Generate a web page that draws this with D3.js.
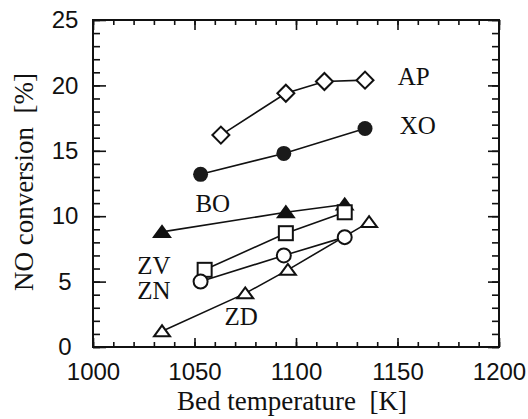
<!DOCTYPE html>
<html>
  <head>
    <meta charset="utf-8">
    <script src="https://d3js.org/d3.v7.min.js"></script>
    <style>
      body { margin: 0; background: #fff; }
      .ticklab { font-family: "Liberation Sans", Arial, sans-serif; font-size: 24px; }
      .serif { font-family: "Liberation Serif", "Times New Roman", serif; }
    </style>
  </head>
  <body>
    <script>

      // series values: bed temperature [K] and NO conversion [%]
      var ap_x = [1063, 1095, 1114, 1134]
      var ap_y = [16.2, 19.4, 20.3, 20.4]
      var xo_x = [1053, 1094, 1134]
      var xo_y = [13.2, 14.8, 16.7]
      var bo_x = [1034, 1095, 1124]
      var bo_y = [8.8, 10.3, 10.9]
      var zv_x = [1055, 1095, 1124]
      var zv_y = [5.9, 8.7, 10.3]
      var zn_x = [1053, 1094, 1124]
      var zn_y = [5.0, 7.0, 8.4]
      var zd_x = [1034, 1075, 1096, 1136]
      var zd_y = [1.2, 4.1, 5.9, 9.55]

      // tick labels
      var x_ticks = [1000, 1050, 1100, 1150, 1200]
      var y_ticks = [0, 5, 10, 15, 20, 25]

      // series names and where their labels sit (data units)
      var names = ["AP", "XO", "BO", "ZV", "ZN", "ZD"]
      var label_x = [1158, 1160, 1059, 1030, 1030, 1073]
      var label_y = [20.0, 16.3, 10.3, 5.6, 3.7, 1.7]

      var w = 528
      var h = 419
      var pl = 93, pr = 499, pt = 20, pb = 347

      var svg = d3.select("body").append("svg")
        .attr("width", w)
        .attr("height", h)

      var x_scale = d3.scaleLinear().domain([1000, 1200]).range([pl, pr])
      var y_scale = d3.scaleLinear().domain([0, 25]).range([pb, pt])

      var minor_x = d3.range(1000, 1201, 10)
      var minor_y = d3.range(0, 26, 1)

      // minor ticks, all four sides, pointing inward
      svg.append("g").attr("transform", "translate(0," + pb + ")")
        .call(d3.axisBottom(x_scale).tickValues(minor_x).tickSize(-5).tickFormat(""))
      svg.append("g").attr("transform", "translate(0," + pt + ")")
        .call(d3.axisTop(x_scale).tickValues(minor_x).tickSize(-5).tickFormat(""))
      svg.append("g").attr("transform", "translate(" + pl + ",0)")
        .call(d3.axisLeft(y_scale).tickValues(minor_y).tickSize(-7).tickFormat(""))
      svg.append("g").attr("transform", "translate(" + pr + ",0)")
        .call(d3.axisRight(y_scale).tickValues(minor_y).tickSize(-7).tickFormat(""))

      // major ticks with labels
      var xa = svg.append("g").attr("transform", "translate(0," + pb + ")")
        .call(d3.axisBottom(x_scale).tickValues(x_ticks).tickSize(-9)
          .tickPadding(16).tickFormat(d3.format("d")))
      svg.append("g").attr("transform", "translate(0," + pt + ")")
        .call(d3.axisTop(x_scale).tickValues(x_ticks).tickSize(-10).tickFormat(""))
      var ya = svg.append("g").attr("transform", "translate(" + pl + ",0)")
        .call(d3.axisLeft(y_scale).tickValues(y_ticks).tickSize(-13)
          .tickPadding(16).tickFormat(d3.format("d")))
      svg.append("g").attr("transform", "translate(" + pr + ",0)")
        .call(d3.axisRight(y_scale).tickValues(y_ticks).tickSize(-11).tickFormat(""))

      svg.selectAll(".domain").remove()
      svg.selectAll(".tick line").attr("stroke", "#111").attr("stroke-width", 1.6)

      xa.selectAll("text").attr("class", "ticklab").attr("fill", "#111")
        .attr("dy", "0.71em").attr("y", 16)
      ya.selectAll("text").attr("class", "ticklab").attr("fill", "#111")
        .attr("text-anchor", "middle").attr("x", -28)

      // frame
      svg.append("rect")
        .attr("x", pl).attr("y", pt)
        .attr("width", pr - pl).attr("height", pb - pt)
        .attr("fill", "none").attr("stroke", "#111").attr("stroke-width", 2)

      // axis titles
      svg.append("text").attr("class", "serif")
        .attr("x", 292).attr("y", 410)
        .attr("text-anchor", "middle").attr("font-size", 27).attr("fill", "#111")
        .attr("xml:space", "preserve")
        .text("Bed temperature  [K]")

      svg.append("text").attr("class", "serif")
        .attr("transform", "translate(33,182) rotate(-90)")
        .attr("text-anchor", "middle").attr("font-size", 27).attr("fill", "#111")
        .attr("xml:space", "preserve")
        .text("NO conversion  [%]")

      var series = [
        {xs: ap_x, ys: ap_y, mark: "diamond"},
        {xs: xo_x, ys: xo_y, mark: "dot"},
        {xs: bo_x, ys: bo_y, mark: "tri_fill"},
        {xs: zv_x, ys: zv_y, mark: "square"},
        {xs: zn_x, ys: zn_y, mark: "circle"},
        {xs: zd_x, ys: zd_y, mark: "tri"}
      ]

      var line = d3.line()
        .x(function(d) { return x_scale(d[0]) })
        .y(function(d) { return y_scale(d[1]) })

      // lines first
      series.forEach(function(s) {
        var pts = d3.zip(s.xs, s.ys)
        svg.append("path")
          .attr("d", line(pts))
          .attr("fill", "none").attr("stroke", "#111").attr("stroke-width", 1.6)
      })

      // then markers
      series.forEach(function(s) {
        var pts = d3.zip(s.xs, s.ys)
        var g = svg.append("g")
        pts.forEach(function(p) {
          var cx = x_scale(p[0]), cy = y_scale(p[1])
          if (s.mark == "dot") {
            g.append("circle").attr("cx", cx).attr("cy", cy).attr("r", 7.5)
              .attr("fill", "#1a1a1a")
          } else if (s.mark == "circle") {
            g.append("circle").attr("cx", cx).attr("cy", cy).attr("r", 7)
              .attr("fill", "#fff").attr("stroke", "#111").attr("stroke-width", 2)
          } else if (s.mark == "square") {
            g.append("rect").attr("x", cx - 7).attr("y", cy - 7)
              .attr("width", 14).attr("height", 14)
              .attr("fill", "#fff").attr("stroke", "#111").attr("stroke-width", 2)
          } else if (s.mark == "diamond") {
            g.append("rect").attr("x", -6).attr("y", -6)
              .attr("width", 12).attr("height", 12)
              .attr("transform", "translate(" + cx + "," + cy + ") rotate(45)")
              .attr("fill", "#fff").attr("stroke", "#111").attr("stroke-width", 2)
          } else {
            var tri = "M" + (cx - 8) + "," + (cy + 5) + "L" + cx + "," + (cy - 6) +
              "L" + (cx + 8) + "," + (cy + 5) + "Z"
            g.append("path").attr("d", tri)
              .attr("fill", s.mark == "tri_fill" ? "#111" : "#fff")
              .attr("stroke", "#111").attr("stroke-width", 2)
          }
        })
      })

      // series labels
      svg.selectAll(".lab")
        .data(names)
        .enter()
        .append("text")
        .attr("class", "serif")
        .attr("x", function(d, i) { return x_scale(label_x[i]) })
        .attr("y", function(d, i) { return y_scale(label_y[i]) })
        .attr("text-anchor", "middle")
        .attr("font-size", 25)
        .attr("fill", "#111")
        .text(function(d) { return d })

    </script>
  </body>
</html>
